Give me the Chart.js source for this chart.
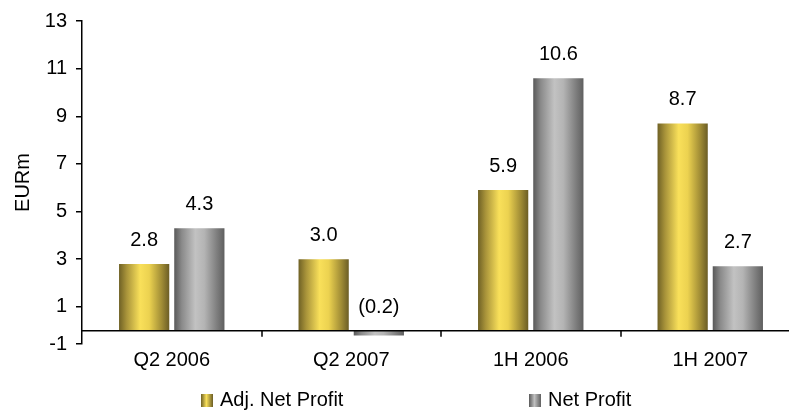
<!DOCTYPE html>
<html>
<head>
<meta charset="utf-8">
<script src="https://cdn.jsdelivr.net/npm/chart.js@4.4.0/dist/chart.umd.min.js"></script>
<style>
  body { margin: 0; overflow: hidden; background: #fff; font-family: "Liberation Sans", Arial, sans-serif; }
  #wrap { position: relative; width: 789px; height: 410px; overflow: hidden; }
  .leg { position: absolute; top: 388px; font-size: 20px; color: #000; white-space: nowrap; line-height: 22px; }
  .leg span { display: inline-block; width: 12px; height: 13px; margin-right: 7px; vertical-align: -1px; }
</style>
</head>
<body>
<div id="wrap">
  <canvas id="profitChart" width="800" height="410"></canvas>
  <div class="leg" id="leg0" style="left:201px"><span style="background:linear-gradient(to right,#6f6125,#f9e05a 45%,#6b5d25)"></span></div>
  <div class="leg" id="leg1" style="left:529px"><span style="background:linear-gradient(to right,#595959,#c0c0c0 45%,#5f5f5f)"></span></div>
</div>
<script>
// data
var periods = ["Q2 2006", "Q2 2007", "1H 2006", "1H 2007"];
var adjNetProfit = [2.8, 3.0, 5.9, 8.7];
var netProfit = [4.3, -0.2, 10.6, 2.7];
var seriesNames = ["Adj. Net Profit", "Net Profit"];
var yTickValues = [-1, 1, 3, 5, 7, 9, 11, 13];
var yMin = -0.56;
var yMax = 13;

var catPct = 0.615;
var barPct = 0.91;

var gradStops = [
    [[0, '#6f6125'], [0.15, '#a8933a'], [0.42, '#f9e05a'], [0.6, '#ecd250'], [0.85, '#a08c35'], [1, '#6b5d25']],
    [[0, '#595959'], [0.15, '#8a8a8a'], [0.42, '#c2c2c2'], [0.6, '#b4b4b4'], [0.85, '#7e7e7e'], [1, '#5f5f5f']]
];

document.querySelector('#leg0').appendChild(document.createTextNode(seriesNames[0]));
document.querySelector('#leg1').appendChild(document.createTextNode(seriesNames[1]));

barGradient = (c) => {
    var chart = c.chart;
    if (!chart.chartArea || !chart.scales.x) {
        return gradStops[c.datasetIndex][2][1];
    }
    var xs = chart.scales.x;
    var catW = xs.width / periods.length;
    var slot = catW * catPct / 2;
    var cx = xs.getPixelForValue(c.dataIndex);
    var left = cx - catW * catPct / 2 + c.datasetIndex * slot + slot * (1 - barPct) / 2;
    var w = slot * barPct;
    var g = chart.ctx.createLinearGradient(left, 0, left + w, 0);
    gradStops[c.datasetIndex].forEach(s => g.addColorStop(s[0], s[1]));
    return g;
};

// zero line, boundary ticks and value labels
var extras = {
    id: 'extras',
    afterDatasetsDraw(chart) {
        var ctx = chart.ctx;
        var xs = chart.scales.x;
        var ys = chart.scales.y;
        var y0 = ys.getPixelForValue(0);
        ctx.save();
        ctx.strokeStyle = '#000';
        ctx.lineWidth = 1.5;
        ctx.beginPath();
        ctx.moveTo(chart.chartArea.left, y0);
        ctx.lineTo(chart.width, y0);
        for (var i = 0; i < periods.length - 1; i++) {
            var bx = Math.round((xs.getPixelForValue(i) + xs.getPixelForValue(i + 1)) / 2);
            ctx.moveTo(bx, y0);
            ctx.lineTo(bx, y0 + 6);
        }
        ctx.stroke();

        ctx.fillStyle = '#000';
        ctx.font = '20px "Liberation Sans", Arial, sans-serif';
        ctx.textAlign = 'center';
        ctx.textBaseline = 'alphabetic';
        chart.data.datasets.forEach((ds, di) => {
            var meta = chart.getDatasetMeta(di);
            meta.data.forEach((bar, i) => {
                var v = ds.data[i];
                var txt = v < 0 ? '(' + Math.abs(v).toFixed(1) + ')' : v.toFixed(1);
                var top = ys.getPixelForValue(Math.max(v, 0));
                ctx.fillText(txt, bar.x, top - 18);
            });
        });
        ctx.restore();
    }
};

var myChart = new Chart(document.getElementById('profitChart').getContext('2d'), {
    type: 'bar',
    data: {
        labels: periods,
        datasets: [{
            label: seriesNames[0],
            data: adjNetProfit,
            backgroundColor: barGradient,
            borderWidth: 0
        },
        {
            label: seriesNames[1],
            data: netProfit,
            backgroundColor: barGradient,
            borderWidth: 0
        }]
    },
    options: {
        responsive: false,
        animation: false,
        events: [],
        categoryPercentage: catPct,
        barPercentage: barPct,
        layout: { padding: { top: 21, left: 0, right: 0, bottom: 34 } },
        plugins: {
            legend: { display: false },
            tooltip: { enabled: false }
        },
        scales: {
            x: {
                grid: { display: false, drawTicks: false },
                border: { display: false },
                ticks: {
                    color: '#000',
                    padding: 4,
                    maxRotation: 0,
                    font: { family: '"Liberation Sans", Arial, sans-serif', size: 20 }
                }
            },
            y: {
                min: yMin,
                max: yMax,
                afterBuildTicks: (scale) => {
                    scale.ticks = yTickValues.map(v => ({ value: Math.max(v, yMin) }));
                },
                afterFit: (scale) => { scale.width = 82; },
                grid: { drawOnChartArea: false, tickLength: 6, color: '#000', lineWidth: 1.5 },
                border: { color: '#000', width: 1.5 },
                ticks: {
                    color: '#000',
                    padding: 9,
                    font: { family: '"Liberation Sans", Arial, sans-serif', size: 20 },
                    callback: (v) => v < 0 ? '-1' : String(v)
                },
                title: {
                    display: true,
                    text: 'EURm',
                    color: '#000',
                    padding: { top: 11, bottom: 0 },
                    font: { family: '"Liberation Sans", Arial, sans-serif', size: 20 }
                }
            }
        }
    },
    plugins: [extras]
});
</script>
</body>
</html>
